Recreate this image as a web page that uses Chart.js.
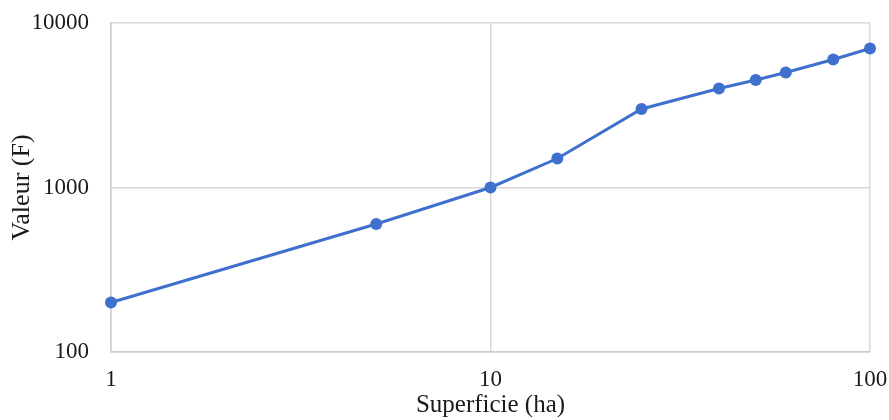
<!DOCTYPE html>
<html>
<head>
<meta charset="utf-8">
<script src="https://cdn.jsdelivr.net/npm/chart.js@4/dist/chart.umd.min.js"></script>
<style>
  html, body { margin: 0; padding: 0; background: #ffffff; }
  #wrap { width: 889px; height: 420px; position: relative; }
</style>
</head>
<body>
<div id="wrap"><canvas id="c"></canvas></div>
<script>
const superficie = [1, 5, 10, 15, 25, 40, 50, 60, 80, 100];
const valeur = [200, 600, 1000, 1500, 3000, 4000, 4500, 5000, 6000, 7000];
const xTicks = [1, 10, 100];
const yTicks = [100, 1000, 10000];
const xTitle = 'Superficie (ha)';
const yTitle = 'Valeur (F)';

const points = superficie.map((x, i) => ({ x: x, y: valeur[i] }));
const blue = '#3F70CD';
const gridColor = '#d9d9d9';
const fontFamily = '"Liberation Serif", "Times New Roman", serif';

new Chart(document.getElementById('c'), {
  type: 'scatter',
  data: {
    datasets: [{
      data: points,
      showLine: true,
      borderColor: blue,
      backgroundColor: blue,
      borderWidth: 3,
      pointRadius: 6,
      pointHoverRadius: 6,
      pointBorderWidth: 0,
      tension: 0,
      clip: false
    }]
  },
  options: {
    responsive: true,
    maintainAspectRatio: false,
    animation: false,
    layout: { autoPadding: false, padding: { left: 0, right: 19, top: 23, bottom: 0 } },
    plugins: { legend: { display: false }, tooltip: { enabled: false } },
    scales: {
      x: {
        type: 'logarithmic',
        min: 1,
        max: 100,
        afterBuildTicks: (s) => { s.ticks = xTicks.map(v => ({ value: v })); },
        afterFit: (s) => { s.height = 68; },
        grid: { color: gridColor, lineWidth: 1.5, drawTicks: true, tickLength: 14, tickColor: 'rgba(0,0,0,0)' },
        border: { color: '#cccccc', width: 1.5 },
        ticks: {
          color: '#1a1a1a',
          padding: 0,
          maxRotation: 0,
          autoSkip: false,
          font: { family: fontFamily, size: 23 },
          callback: (v) => String(v)
        },
        title: {
          display: true,
          text: xTitle,
          color: '#1a1a1a',
          padding: { top: 0, bottom: 0 },
          font: { family: fontFamily, size: 25 }
        }
      },
      y: {
        type: 'logarithmic',
        min: 100,
        max: 10000,
        afterBuildTicks: (s) => { s.ticks = yTicks.map(v => ({ value: v })); },
        afterFit: (s) => { s.width = 111; },
        grid: { color: gridColor, lineWidth: 1.5, drawTicks: true, tickLength: 22, tickColor: 'rgba(0,0,0,0)' },
        border: { color: '#cccccc', width: 1.5 },
        ticks: {
          color: '#1a1a1a',
          padding: 0,
          autoSkip: false,
          font: { family: fontFamily, size: 23 },
          callback: (v) => String(v)
        },
        title: {
          display: true,
          text: yTitle,
          color: '#1a1a1a',
          padding: { top: 7, bottom: 0 },
          font: { family: fontFamily, size: 26 }
        }
      }
    }
  }
});
</script>
</body>
</html>
